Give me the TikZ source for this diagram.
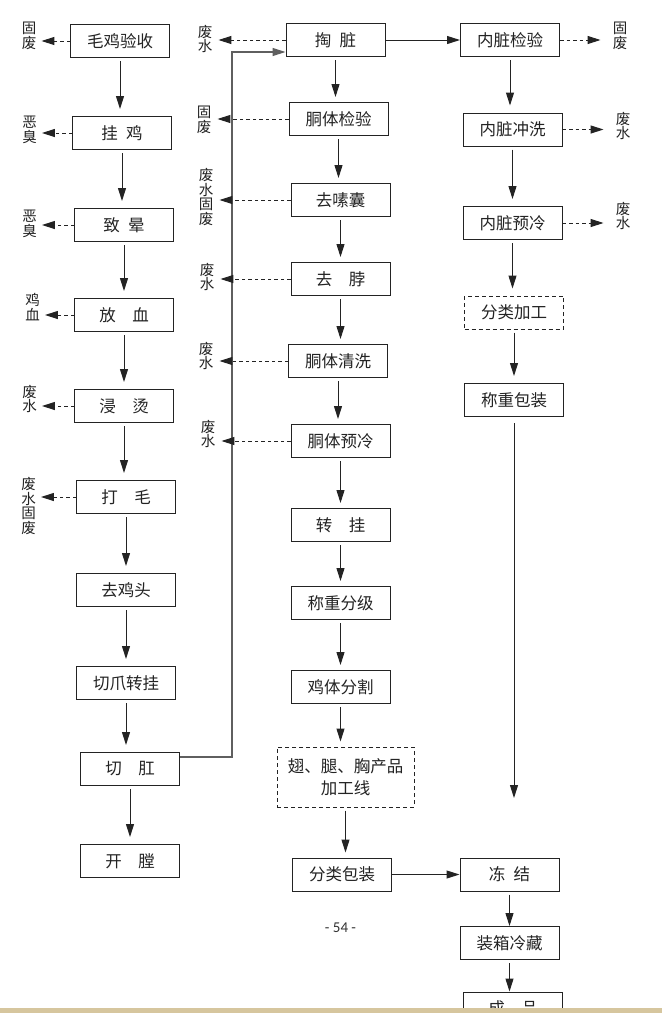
\documentclass[tikz,border=0pt]{standalone}
\usepackage{fontspec}
\setmainfont{Noto Sans CJK SC}
\newfontfamily\pagefont{Carlito}
\usetikzlibrary{arrows.meta, positioning}

\definecolor{inkgray}{RGB}{35,35,35}
\definecolor{loopgray}{RGB}{95,95,95}
\definecolor{paperbar}{RGB}{214,198,158}

\begin{document}
\begin{tikzpicture}[x=1pt, y=-1pt, on grid, node distance=92pt,
    >={Triangle[length=13pt, width=8pt]},
    box/.style={draw=inkgray, line width=1pt, minimum width=99pt, minimum height=33pt,
        inner sep=0pt, text=inkgray, font=\fontsize{16.5}{22}\selectfont},
    dbox/.style={box, dash pattern=on 4pt off 3pt, align=center},
    waste/.style={inner sep=0pt, align=center, text=inkgray, font=\fontsize{14.5}{14.5}\selectfont},
    flow/.style={->, draw=inkgray, line width=1pt, shorten <=3pt, shorten >=5pt},
    leak/.style={->, draw=inkgray, line width=1pt, dash pattern=on 3.5pt off 3pt}]
    \useasboundingbox (0,0) rectangle (662,1013);
    \fill[white] (0,0) rectangle (662,1013);

    % slaughter line
    \node[box] (L1) at (120,41) {毛鸡验收};
    \node[box, below=92pt of L1, xshift=2pt] (L2) {挂\enspace 鸡};
    \node[box, below=92pt of L2, xshift=2pt] (L3) {致\enspace 晕};
    \node[box, below=90pt of L3] (L4) {放\quad 血};
    \node[box, below=91pt of L4] (L5) {浸\quad 烫};
    \node[box, below=91pt of L5, xshift=2pt] (L6) {打\quad 毛};
    \node[box, below=93pt of L6] (L7) {去鸡头};
    \node[box, below=93pt of L7] (L8) {切爪转挂};
    \node[box, below=86pt of L8, xshift=4pt] (L9) {切\quad 肛};
    \node[box, below=92pt of L9] (L10) {开\quad 膛};

    % carcass line
    \node[box] (M1) at (335.5,40) {掏\enspace 脏};
    \node[box, below=79pt of M1, xshift=3pt] (M2) {胴体检验};
    \node[box, below=81pt of M2, xshift=2pt] (M3) {去嗉囊};
    \node[box, below=79pt of M3] (M4) {去\quad 脖};
    \node[box, below=82pt of M4, xshift=-2.5pt] (M5) {胴体清洗};
    \node[box, below=80pt of M5, xshift=2.5pt] (M6) {胴体预冷};
    \node[box, below=84pt of M6] (M7) {转\quad 挂};
    \node[box, below=78pt of M7] (M8) {称重分级};
    \node[box, below=84pt of M8] (M9) {鸡体分割};
    \node[dbox, minimum width=137pt, minimum height=60pt, below=90pt of M9, xshift=5pt] (M10) {翅、腿、胸产品\\加工线};
    \node[box, below=97.5pt of M10, xshift=-3.5pt] (M11) {分类包装};

    % offal line
    \node[box] (R1) at (510,40) {内脏检验};
    \node[box, below=89.5pt of R1, xshift=2.5pt] (R2) {内脏冲洗};
    \node[box, below=93.5pt of R2] (R3) {内脏预冷};
    \node[dbox, below=89.5pt of R3, xshift=1.5pt] (R4) {分类加工};
    \node[box, below=87.5pt of R4] (R5) {称重包装};
    \coordinate[below=398pt of R5] (R5end);
    \node[box, right=167.5pt of M11] (R6) {冻\enspace 结};
    \node[box, below=68.5pt of R6] (R7) {装箱冷藏};
    \node[box, below=65.5pt of R7, xshift=3.5pt] (R8) {成\quad 品};

    % outputs
    \node[waste] (g1) at (29,36) {固\\废};
    \node[waste] (g2) at (29.5,130) {恶\\臭};
    \node[waste] (g3) at (29.5,224) {恶\\臭};
    \node[waste] (g4) at (32.5,307) {鸡\\血};
    \node[waste] (g5) at (29.5,399) {废\\水};
    \node[waste] (g6) at (28.5,506) {废\\水\\固\\废};
    \node[waste] (h1) at (205,39) {废\\水};
    \node[waste] (h2) at (204,120) {固\\废};
    \node[waste] (h3) at (206,197) {废\\水\\固\\废};
    \node[waste] (h4) at (207,277) {废\\水};
    \node[waste] (h5) at (206,356) {废\\水};
    \node[waste] (h6) at (208,434) {废\\水};
    \node[waste] (k1) at (620,36) {固\\废};
    \node[waste] (k2) at (623,126) {废\\水};
    \node[waste] (k3) at (623,216) {废\\水};

    \foreach \a/\b in {L1/L2, L2/L3, L3/L4, L4/L5, L5/L6, L6/L7, L7/L8, L8/L9, L9/L10,
                      R1/R2, R2/R3, R3/R4, R4/R5}
        \draw[flow, shorten >=7pt] (\a) -- (\a |- \b.north);
    \foreach \a/\b in {M1/M2, M2/M3, M3/M4, M4/M5, M5/M6, M6/M7, M7/M8, M8/M9, M9/M10, M10/M11}
        \draw[flow] (\a) -- (\a |- \b.north);
    \foreach \a/\b in {R6/R7, R7/R8}
        \draw[flow, shorten >=0pt] (\a) -- (\a |- \b.north);
    \draw[flow, shorten >=0pt, shorten <=6pt] (R5) -- (R5end);
    \draw[flow, shorten <=0pt, shorten >=0pt] (M1.east) -- (R1.west);
    \draw[flow, shorten <=0pt, shorten >=0pt] (M11.east) -- (M11.east -| R6.west);

    % back to evisceration
    \coordinate (lp) at (232,757);
    \coordinate (lq) at (232,52);
    \draw[->, draw=loopgray, line width=1.3pt] (L9.east |- lp) -- (lp) -- (lq) -- (M1.west |- lq);

    \foreach \b/\w in {L1/g1, L2/g2, L3/g3, L4/g4, L5/g5, L6/g6}
        \draw[leak, shorten >=5pt] (\b.west) -- (\b.west -| \w.east);
    \foreach \b/\w in {M1/h1, M2/h2, M3/h3, M4/h4, M5/h5, M6/h6}
        \draw[leak, shorten >=6pt] (\b.west) -- (\b.west -| \w.east);
    \foreach \b/\w in {R1/k1, R2/k2, R3/k3}
        \draw[leak, shorten >=12pt] (\b.east) -- (\b.east -| \w.west);

    \node[font=\pagefont\fontsize{15}{15}\selectfont, text=black!80] (pg) at (340.5,928) {- 54 -};
    \fill[paperbar] (0,1008) rectangle (662,1013);
\end{tikzpicture}
\end{document}
